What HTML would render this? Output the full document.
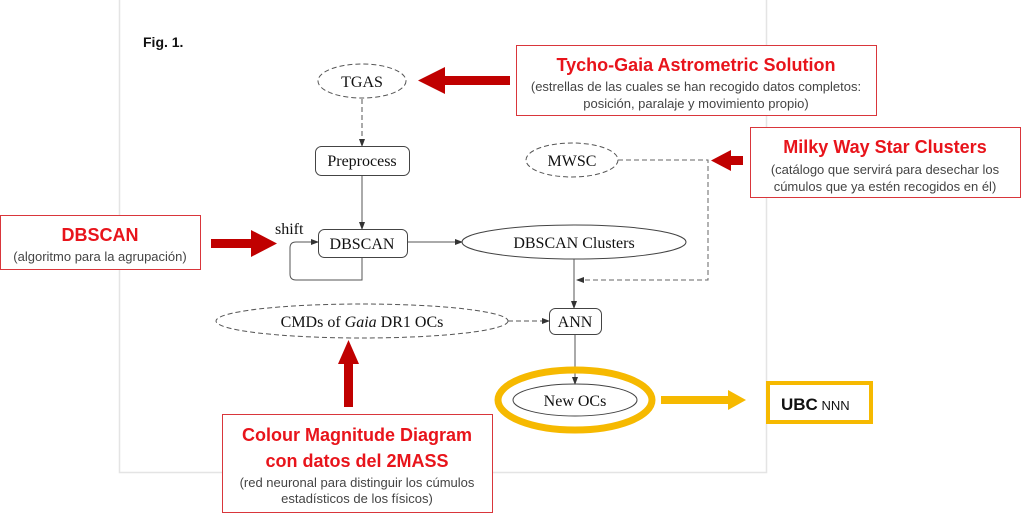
<!DOCTYPE html>
<html><head><meta charset="utf-8"><style>
html,body{margin:0;padding:0;background:#fff;}
svg{display:block;}
.s{font-family:"Liberation Serif",serif;font-size:16px;fill:#111;}
.r{font-family:"Liberation Sans",sans-serif;font-weight:bold;fill:#e8141b;}
.g{font-family:"Liberation Sans",sans-serif;font-size:13px;fill:#444;}
</style></head><body>
<svg width="1024" height="518" viewBox="0 0 1024 518" xmlns="http://www.w3.org/2000/svg">
<defs>
<marker id="a" markerWidth="8" markerHeight="6" refX="7" refY="3" orient="auto" markerUnits="userSpaceOnUse"><path d="M0,0 L8,3 L0,6 z" fill="#333"/></marker>
</defs>
<path d="M119.5,0 V472.5 H766.5 V0" fill="none" stroke="#e4e4e4" stroke-width="1.5"/>
<text x="143" y="47" font-family="Liberation Sans,sans-serif" font-size="14" font-weight="bold" fill="#111">Fig. 1.</text>

<ellipse cx="362" cy="81" rx="44" ry="17" fill="none" stroke="#555" stroke-dasharray="5,3"/>
<text x="362" y="87" class="s" text-anchor="middle">TGAS</text>
<line x1="362" y1="99" x2="362" y2="146" stroke="#555" stroke-dasharray="5,3" marker-end="url(#a)"/>
<rect x="315.5" y="146.5" width="94" height="29" rx="6" fill="none" stroke="#444"/>
<text x="362" y="166" class="s" text-anchor="middle">Preprocess</text>
<line x1="362" y1="176" x2="362" y2="229" stroke="#555" marker-end="url(#a)"/>
<rect x="318.5" y="229.5" width="89" height="28" rx="6" fill="none" stroke="#444"/>
<text x="362" y="249" class="s" text-anchor="middle">DBSCAN</text>
<text x="275" y="234" class="s">shift</text>
<path d="M362,258 V280 H296 Q290,280 290,274 V248 Q290,242 296,242 H318" fill="none" stroke="#555" marker-end="url(#a)"/>
<line x1="408" y1="242" x2="462" y2="242" stroke="#555" marker-end="url(#a)"/>
<ellipse cx="574" cy="242" rx="112" ry="17" fill="none" stroke="#444"/>
<text x="574" y="248" class="s" text-anchor="middle">DBSCAN Clusters</text>
<line x1="574" y1="259" x2="574" y2="308" stroke="#555" marker-end="url(#a)"/>
<ellipse cx="572" cy="160" rx="46" ry="17" fill="none" stroke="#555" stroke-dasharray="5,3"/>
<text x="572" y="166" class="s" text-anchor="middle">MWSC</text>
<path d="M618,160 H708 V280 H577" fill="none" stroke="#666" stroke-dasharray="5,3" marker-end="url(#a)"/>
<rect x="549.5" y="308.5" width="52" height="26" rx="6" fill="none" stroke="#444"/>
<text x="575" y="327" class="s" text-anchor="middle">ANN</text>
<ellipse cx="362" cy="321" rx="146" ry="17" fill="none" stroke="#555" stroke-dasharray="5,3"/>
<text x="362" y="327" class="s" text-anchor="middle">CMDs of <tspan font-style="italic">Gaia</tspan> DR1 OCs</text>
<line x1="508" y1="321" x2="549" y2="321" stroke="#555" stroke-dasharray="5,3" marker-end="url(#a)"/>
<line x1="575" y1="335" x2="575" y2="384" stroke="#555" marker-end="url(#a)"/>
<ellipse cx="575" cy="400" rx="62" ry="16" fill="none" stroke="#444"/>
<text x="575" y="406" class="s" text-anchor="middle">New OCs</text>
<ellipse cx="575" cy="400" rx="77" ry="30" fill="none" stroke="#f6b900" stroke-width="7"/>
<rect x="661" y="396" width="68" height="8" fill="#f6b900"/>
<path d="M728,390 L746,400 L728,410 z" fill="#f6b900"/>
<rect x="768" y="383" width="103" height="39" fill="none" stroke="#f6b900" stroke-width="4"/>
<text x="781" y="410" font-family="Liberation Sans,sans-serif" fill="#111"><tspan font-size="17" font-weight="bold">UBC</tspan><tspan font-size="13"> NNN</tspan></text>

<rect x="516.5" y="45.5" width="360" height="70" fill="#fff" stroke="#d9363b"/>
<text x="696" y="71" class="r" font-size="18" text-anchor="middle">Tycho-Gaia Astrometric Solution</text>
<text x="696" y="91" class="g" text-anchor="middle">(estrellas de las cuales se han recogido datos completos:</text>
<text x="696" y="108" class="g" text-anchor="middle">posición, paralaje y movimiento propio)</text>
<rect x="443" y="76" width="67" height="9" fill="#c00000"/>
<path d="M445,67 L418,80.5 L445,94 z" fill="#c00000"/>

<rect x="750.5" y="127.5" width="270" height="70" fill="#fff" stroke="#d9363b"/>
<text x="885" y="153" class="r" font-size="18" text-anchor="middle">Milky Way Star Clusters</text>
<text x="885" y="174" class="g" text-anchor="middle">(catálogo que servirá para desechar los</text>
<text x="885" y="191" class="g" text-anchor="middle">cúmulos que ya estén recogidos en él)</text>
<rect x="729" y="156" width="14" height="9" fill="#c00000"/>
<path d="M731,150 L711,160.5 L731,171 z" fill="#c00000"/>

<rect x="0.5" y="215.5" width="200" height="54" fill="#fff" stroke="#d9363b"/>
<text x="100" y="241" class="r" font-size="18" text-anchor="middle">DBSCAN</text>
<text x="100" y="261" class="g" text-anchor="middle">(algoritmo para la agrupación)</text>
<rect x="211" y="239" width="42" height="9" fill="#c00000"/>
<path d="M251,230 L277,243.5 L251,257 z" fill="#c00000"/>

<rect x="222.5" y="414.5" width="270" height="98" fill="#fff" stroke="#d9363b"/>
<text x="357" y="441" class="r" font-size="18" text-anchor="middle">Colour Magnitude Diagram</text>
<text x="357" y="467" class="r" font-size="18" text-anchor="middle">con datos del 2MASS</text>
<text x="357" y="487" class="g" text-anchor="middle">(red neuronal para distinguir los cúmulos</text>
<text x="357" y="503" class="g" text-anchor="middle">estadísticos de los físicos)</text>
<rect x="344" y="362" width="9" height="45" fill="#c00000"/>
<path d="M338,364 L348.5,340 L359,364 z" fill="#c00000"/>
</svg>
</body></html>
